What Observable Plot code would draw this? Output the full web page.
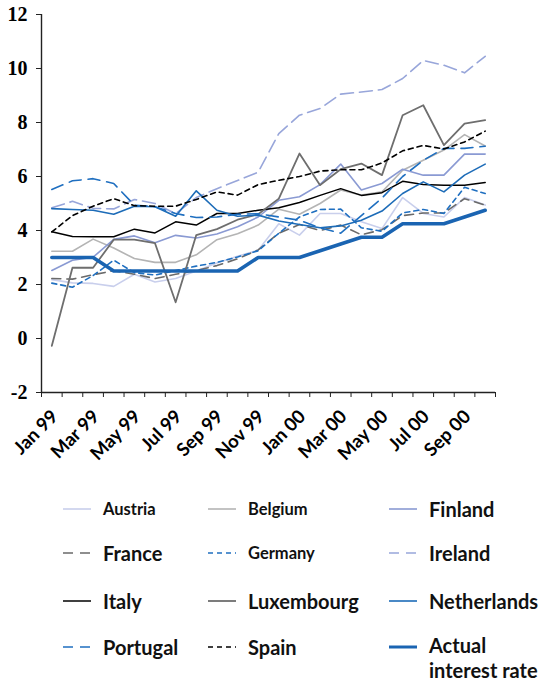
<!DOCTYPE html>
<html><head><meta charset="utf-8">
<script src="https://cdn.jsdelivr.net/npm/d3@7"></script>
<script src="https://cdn.jsdelivr.net/npm/@observablehq/plot@0.6"></script>
<style>
body{margin:0;background:#fff;}
#wrap{position:relative;width:545px;height:682px;overflow:hidden;background:#fff;}
.leg{position:absolute;display:flex;align-items:center;font-family:Lato,"DejaVu Sans",sans-serif;font-weight:bold;color:#111;white-space:nowrap;}
.leg svg{margin-right:12px;flex:none;}
</style></head><body><div id="wrap"></div>
<script>
const months = ["Jan 99","Feb 99","Mar 99","Apr 99","May 99","Jun 99","Jul 99","Aug 99","Sep 99","Oct 99","Nov 99","Dec 99",
  "Jan 00","Feb 00","Mar 00","Apr 00","May 00","Jun 00","Jul 00","Aug 00","Sep 00","Oct 00"];
const yTicks = [-2,0,2,4,6,8,10,12];

const austria     = [2.18,2.06,2.04,1.93,2.38,2.09,2.22,2.5,2.8,3.05,3.27,4.25,3.83,4.63,4.63,4.32,4.07,5.22,4.63,4.5,5.22,4.94];
const belgium     = [3.23,3.23,3.68,3.35,2.96,2.82,2.82,3.1,3.66,3.88,4.2,4.79,4.6,5.0,5.5,5.31,5.43,6.23,6.6,6.98,7.55,7.13];
const finland     = [2.52,2.9,3.01,3.67,3.8,3.55,3.82,3.72,3.87,4.14,4.5,5.12,5.25,5.7,6.46,5.5,5.74,6.27,6.05,6.05,6.83,6.83];
const france      = [2.22,2.2,2.36,2.51,2.38,2.22,2.38,2.52,2.7,2.95,3.28,3.9,4.22,4.0,4.2,3.84,4.03,4.55,4.65,4.65,5.18,4.94];
const germany     = [2.05,1.9,2.33,2.9,2.44,2.35,2.52,2.68,2.82,3.02,3.25,3.9,4.5,4.78,4.79,4.1,3.97,4.65,4.78,4.63,5.6,5.37];
const ireland     = [4.84,5.08,4.82,4.8,5.15,5.0,4.62,5.22,5.55,5.85,6.16,7.59,8.27,8.52,9.05,9.13,9.22,9.63,10.3,10.12,9.84,10.45];
const italy       = [3.95,3.78,3.77,3.77,4.05,3.91,4.32,4.2,4.63,4.63,4.75,4.84,5.04,5.3,5.55,5.3,5.4,5.82,5.7,5.68,5.68,5.78];
const luxembourg  = [-0.27,2.62,2.62,3.66,3.66,3.53,1.34,3.83,4.05,4.4,4.6,5.18,6.85,5.68,6.27,6.48,6.05,8.27,8.64,7.16,7.96,8.09];
const netherlands = [4.81,4.78,4.75,4.6,4.9,4.88,4.53,5.47,4.75,4.53,4.57,4.35,4.22,4.1,4.17,4.38,4.72,5.37,5.8,5.43,6.05,6.46];
const portugal    = [5.52,5.84,5.92,5.74,4.94,4.88,4.63,4.48,4.5,4.6,4.62,4.5,4.38,4.1,3.9,4.55,5.2,6.0,6.6,7.04,7.04,7.12];
const spain       = [3.95,4.55,4.9,5.18,4.92,4.9,4.9,5.15,5.43,5.31,5.7,5.86,6.0,6.2,6.25,6.25,6.5,6.95,7.15,7.02,7.28,7.68];
const actual      = [3,3,3,2.5,2.5,2.5,2.5,2.5,2.5,2.5,3,3,3,3.25,3.5,3.75,3.75,4.25,4.25,4.25,4.5,4.75];

const seriesNames = ["Austria","Belgium","Finland","France","Germany","Ireland","Italy","Luxembourg","Netherlands","Portugal","Spain","Actual interest rate"];
const seriesValues = [austria,belgium,finland,france,germany,ireland,italy,luxembourg,netherlands,portugal,spain,actual];

// styles (kept apart from the data)
const styles = [
  {stroke:"#c9cfec", width:1.6, dash:null,   size:16.5},
  {stroke:"#b4b4b4", width:1.6, dash:null,   size:16.5},
  {stroke:"#8a9ad3", width:1.6, dash:null,   size:20},
  {stroke:"#6a6a6a", width:1.6, dash:"9,6",  size:20},
  {stroke:"#1f6fc0", width:1.6, dash:"5,4",  size:16.5},
  {stroke:"#98a6da", width:1.6, dash:"13,6", size:20},
  {stroke:"#000000", width:1.5, dash:null,   size:20},
  {stroke:"#6e6e6e", width:1.8, dash:null,   size:20},
  {stroke:"#1d6cb8", width:1.6, dash:null,   size:20},
  {stroke:"#1f6fc0", width:1.6, dash:"12,7", size:20},
  {stroke:"#000000", width:1.6, dash:"5,4",  size:20},
  {stroke:"#1a64b2", width:3.6, dash:null,   size:20}
];

const lineMarks = seriesValues.map((vals, k) => Plot.line(vals, {
  x: (d, i) => i, y: d => d,
  stroke: styles[k].stroke, strokeWidth: styles[k].width,
  strokeDasharray: styles[k].dash || undefined
}));

const chart = Plot.plot({
  width: 545, height: 480,
  marginLeft: 41, marginRight: 50, marginTop: 14, marginBottom: 88,
  x: {type: "linear", domain: [-0.5, 21.5]},
  y: {domain: [-2, 12]},
  style: {background: "#fff", overflow: "visible"},
  marks: [
    ...lineMarks,
    Plot.ruleY([-2], {stroke: "#222", strokeWidth: 1.4}),
    Plot.ruleX([-0.5], {stroke: "#222", strokeWidth: 1.4}),
    Plot.axisY({ticks: yTicks, tickSize: 5, tickPadding: 9, stroke: "#222",
      fontSize: 20, fontWeight: "bold", fontFamily: "Liberation Serif", tickFormat: d => String(d)}),
    Plot.axisX({ticks: d3.range(-0.5, 22, 1), tickSize: 5, stroke: "#222", tickFormat: () => ""}),
    Plot.axisX({ticks: d3.range(0, 22, 2), tickSize: 0, tickPadding: 21, tickRotate: -45,
      fontSize: 18.5, fontWeight: "bold", fontFamily: "Lato", dx: 3, tickFormat: i => months[i]})
  ]
});
const wrap = document.getElementById("wrap");
wrap.appendChild(chart);

// legend
const colX = [63, 208, 389];
const rowY = [509, 553, 601, 647];
seriesNames.forEach((name, k) => {
  const col = k % 3, row = Math.floor(k / 3);
  const st = styles[k];
  const div = document.createElement("div");
  div.className = "leg";
  div.style.left = colX[col] + "px";
  div.style.top = (rowY[row] - 14) + "px";
  div.style.height = "28px";
  div.style.fontSize = st.size + "px";
  const sw = d3.create("svg").attr("width", 28).attr("height", 10);
  sw.append("line").attr("x1", 0).attr("x2", 28).attr("y1", 5).attr("y2", 5)
    .attr("stroke", st.stroke).attr("stroke-width", Math.min(st.width, 3))
    .attr("stroke-dasharray", st.dash ? (st.dash === "5,4" ? "5,4" : "10,7") : null);
  div.appendChild(sw.node());
  const span = document.createElement("span");
  if (k === 11) { span.innerHTML = "Actual<br>interest rate"; span.style.lineHeight = "25px"; div.style.alignItems = "flex-start"; sw.style("margin-top","9px"); }
  else span.textContent = name;
  div.appendChild(span);
  wrap.appendChild(div);
});
</script></body></html>
